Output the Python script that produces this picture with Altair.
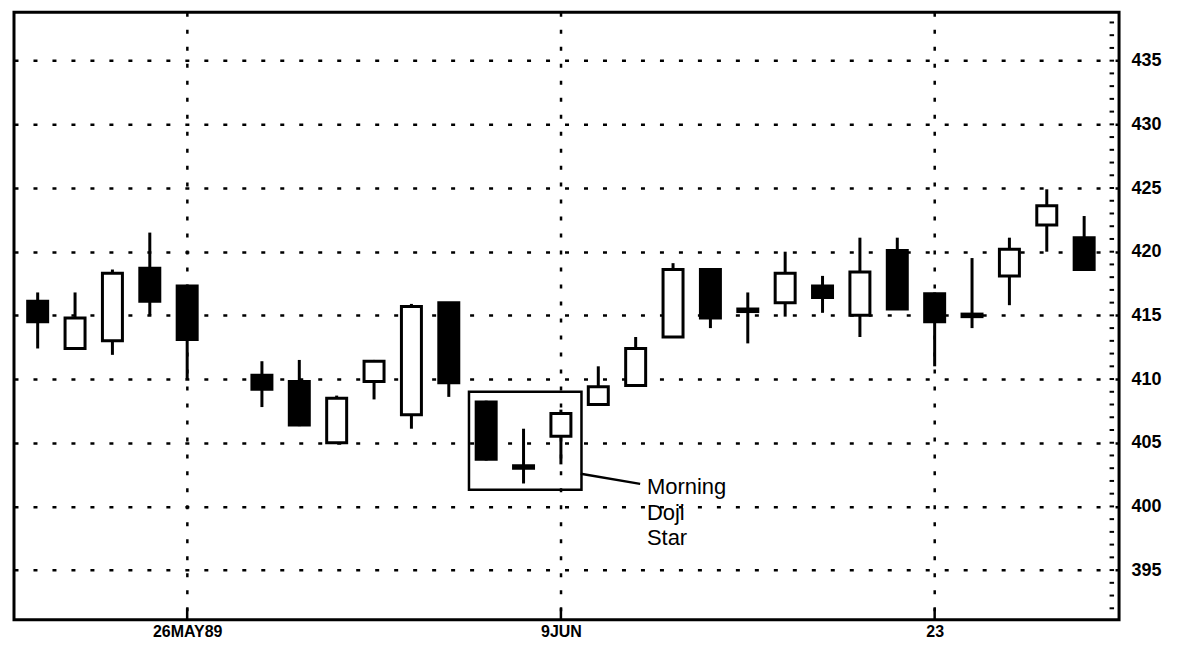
import altair as alt
import pandas as pd

# ---- data (trading-day index; 5 = Memorial Day, no trading) ----
days = [0, 1, 2, 3, 4, 6, 7, 8, 9, 10, 11, 12, 13, 14, 15, 16, 17, 18, 19, 20,
        21, 22, 23, 24, 25, 26, 27, 28]
opens = [416.1, 412.4, 413.0, 418.7, 417.3, 410.3, 409.8, 405.0, 409.8, 407.2,
         416.0, 408.2, 403.2, 405.5, 408.0, 409.5, 413.3, 418.6, 415.5, 416.0,
         417.3, 415.0, 420.1, 416.7, 415.1, 418.1, 422.1, 421.1]
highs = [416.8, 416.8, 418.6, 421.5, 417.4, 411.4, 411.5, 408.7, 411.5, 415.9,
         416.0, 408.3, 406.1, 407.6, 411.0, 413.3, 419.1, 418.6, 416.8, 420.0,
         418.1, 421.1, 421.1, 416.8, 419.5, 421.1, 424.9, 422.8]
lows = [412.4, 412.3, 411.9, 415.0, 410.0, 407.8, 406.3, 405.0, 408.4, 406.1,
        408.6, 403.6, 401.8, 403.3, 408.0, 409.5, 413.3, 414.0, 412.8, 414.9,
        415.2, 413.3, 415.5, 411.0, 414.0, 415.8, 420.0, 418.6]
closes = [414.5, 414.8, 418.3, 416.1, 413.1, 409.2, 406.4, 408.5, 411.4, 415.7,
          409.7, 403.7, 403.0, 407.3, 409.4, 412.4, 418.6, 414.8, 415.3, 418.3,
          416.4, 418.4, 415.5, 414.5, 414.9, 420.2, 423.6, 418.6]

x_tick_values = [4, 14, 24]
x_tick_labels = ["26MAY89", "9JUN", "23"]
y_tick_values = [395, 400, 405, 410, 415, 420, 425, 430, 435]
y_minor_ticks = list(range(392, 439))

# annotation: box around the morning doji star, leader line, label
box_x = [11.54]
box_x2 = [14.55]
box_y = [409.0]
box_y2 = [401.3]
leader_x = [14.53, 16.12]
leader_y = [402.56, 401.77]
note_lines = ["Morning", "Doji", "Star"]
note_x = [16.3, 16.3, 16.3]
note_y = [401.5, 399.5, 397.5]

X_DOMAIN = [-0.5, 28.8]
Y_DOMAIN = [391.1, 438.8]

df = pd.DataFrame({"day": days, "open": opens, "high": highs,
                   "low": lows, "close": closes})
df["dir"] = ["up" if c > o else "down" for o, c in zip(opens, closes)]

xscale = alt.Scale(domain=X_DOMAIN, nice=False, zero=False)
yscale = alt.Scale(domain=Y_DOMAIN, nice=False, zero=False)

label_expr = " : ".join(
    f"datum.value == {v} ? '{t}'" for v, t in zip(x_tick_values, x_tick_labels)
) + " : ''"

x_axis = alt.Axis(values=x_tick_values, labelExpr=label_expr, title=None,
                  grid=True, gridColor="black", gridDash=[4, 13], gridWidth=2.5,
                  gridOpacity=1,
                  ticks=False, domain=False, labelFont="Liberation Sans",
                  labelFontWeight="bold", labelFontSize=16, labelPadding=4,
                  labelColor="black")
y_axis = alt.Axis(values=y_tick_values, orient="right", title=None,
                  grid=True, gridColor="black", gridDash=[4, 15], gridWidth=2.5,
                  gridOpacity=1,
                  ticks=False, domain=False, labelFont="Liberation Sans",
                  labelFontWeight="bold", labelFontSize=18, labelPadding=12,
                  labelColor="black")


def X(field):
    return alt.X(field, scale=xscale, axis=x_axis)


def Y(field):
    return alt.Y(field, scale=yscale, axis=y_axis)


base = alt.Chart(df)

wicks = base.mark_rule(color="black", strokeWidth=3).encode(
    x=X("day:Q"), y=Y("low:Q"), y2="high:Q",
)

bodies = base.mark_bar(size=20, stroke="black", strokeWidth=3).encode(
    x=X("day:Q"), y=Y("open:Q"), y2="close:Q",
    color=alt.Color("dir:N", scale=alt.Scale(domain=["up", "down"],
                                             range=["white", "black"]),
                    legend=None),
)

minor_df = pd.DataFrame({"v": y_minor_ticks, "a": [28.68] * len(y_minor_ticks),
                         "b": [X_DOMAIN[1]] * len(y_minor_ticks)})
minor = alt.Chart(minor_df).mark_rule(color="black", strokeWidth=2).encode(
    y=Y("v:Q"), x=X("a:Q"), x2="b:Q",
)

xt_df = pd.DataFrame({"d": x_tick_values, "lo": [Y_DOMAIN[0]] * 3,
                      "hi": [Y_DOMAIN[0] + 0.9] * 3})
xticks = alt.Chart(xt_df).mark_rule(color="black", strokeWidth=2.5).encode(
    x=X("d:Q"), y=Y("lo:Q"), y2="hi:Q",
)

box_df = pd.DataFrame({"x": box_x, "x2": box_x2, "y": box_y, "y2": box_y2})
box = alt.Chart(box_df).mark_rect(fill=None, stroke="black", strokeWidth=2.5).encode(
    x=X("x:Q"), x2="x2:Q", y=Y("y:Q"), y2="y2:Q",
)

leader_df = pd.DataFrame({"x": leader_x, "y": leader_y})
leader = alt.Chart(leader_df).mark_line(color="black", strokeWidth=2.5).encode(
    x=X("x:Q"), y=Y("y:Q"),
)

note_df = pd.DataFrame({"t": note_lines, "x": note_x, "y": note_y})
note = alt.Chart(note_df).mark_text(align="left", baseline="middle",
                                     font="Liberation Sans", fontSize=22,
                                     color="black").encode(
    x=X("x:Q"), y=Y("y:Q"), text="t:N",
)

chart = alt.layer(wicks, bodies, minor, xticks, box, leader, note).properties(
    width=1106, height=608,
    padding={"left": 6, "top": 4, "right": 58, "bottom": 22},
    autosize=alt.AutoSizeParams(type="none"),
    background="white",
).configure_view(stroke="black", strokeWidth=3)

chart.save("out.html", embed_options={"renderer": "svg", "actions": False})
